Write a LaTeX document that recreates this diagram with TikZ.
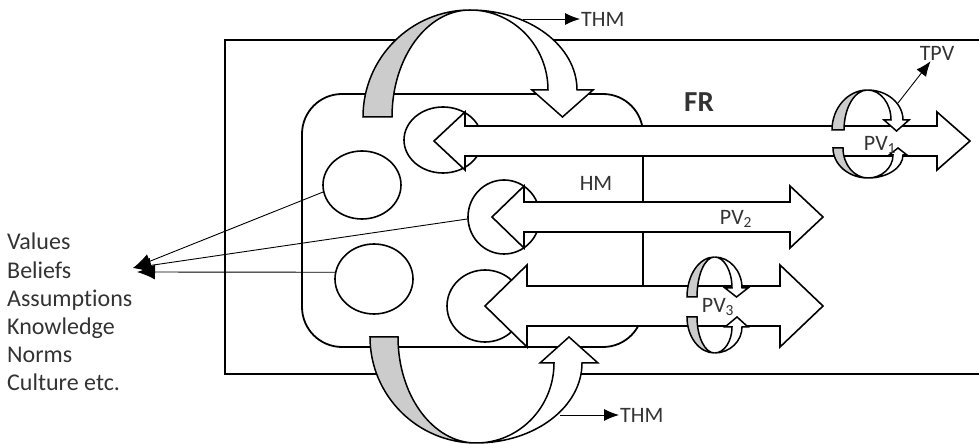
\documentclass[tikz,border=0pt]{standalone}
\usepackage{fontspec}
\setmainfont{Carlito}[Ligatures=NoCommon]
\usetikzlibrary{arrows.meta, shapes.geometric}
\definecolor{cBand}{HTML}{CCCCCC}
\definecolor{cInk}{HTML}{333333}
\tikzset{
  frame/.style={line width=1.8pt},
  blob/.style={ellipse, draw, line width=1.6pt, inner sep=0pt, outer sep=0pt},
  shaft/.style={draw, fill=white, line width=1.6pt, line join=miter},
  backband/.style={draw, fill=cBand, line width=1.5pt},
  frontband/.style={draw, fill=white, line width=1.5pt},
  lbl/.style={font=\fontsize{22}{24}\selectfont, text=cInk, inner sep=1pt},
  pointer/.style={line width=0.9pt, -{Latex[length=15pt,width=12pt]}},
  feed/.style={line width=0.9pt, -{Latex[length=18pt,width=15pt]}},
}

\begin{document}
\begin{tikzpicture}[x=1pt, y=1pt]
  \useasboundingbox (0,0) rectangle (979,444);
  % FR frame, cut by the right edge
  \draw[frame] (225,70) rectangle (995,404);
  % blank the room under both THM arcs
  \fill[white] (363,327) arc[start angle=180, end angle=90, radius=107]
    arc[start angle=90, end angle=0, x radius=107, y radius=80] -- (577,327) -- cycle;
  \fill[white] (370,107) arc[start angle=180, end angle=270, radius=106]
    arc[start angle=270, end angle=360, x radius=106, y radius=80] -- (582,107) -- cycle;

  % HM box
  \draw[frame, rounded corners=40pt] (302,97) rectangle (643,350);
  \node[blob, minimum width=78pt, minimum height=68pt] (c1) at (362,259) {};
  \node[blob, minimum width=78pt, minimum height=70pt] (c2) at (374,165) {};
  \node[blob, minimum width=78pt, minimum height=66pt] (pm1) at (443,304) {};
  \node[blob, minimum width=72pt, minimum height=74pt] (pm2) at (504,227) {};
  \node[blob, minimum width=76pt, minimum height=72pt] (pm3) at (485,138) {};

  % the three PV arrows
  \draw[shaft] (434,303) -- (465,332) -- (465,318) -- (937,318) -- (937,332) -- (970,303)
    -- (937,274) -- (937,288) -- (465,288) -- (465,274) -- cycle;
  \draw[shaft] (492,227) -- (524,258) -- (524,242) -- (790,242) -- (790,258) -- (823,227)
    -- (790,196) -- (790,212) -- (524,212) -- (524,196) -- cycle;
  \draw[shaft] (485,138) -- (527,179) -- (527,158) -- (780,158) -- (780,179) -- (823,138)
    -- (780,97) -- (780,118) -- (527,118) -- (527,97) -- cycle;

  % THM, top
  \draw[backband] (363,327) arc[start angle=180, end angle=90, radius=107]
    arc[start angle=90, end angle=180, x radius=78, y radius=107] -- cycle;
  \draw[frontband] (470,434) arc[start angle=90, end angle=0, x radius=107, y radius=80]
    -- (593,354) -- (562.5,327) -- (532,354) -- (548,354)
    arc[start angle=0, end angle=90, x radius=78, y radius=80] -- cycle;
  % THM, bottom
  \draw[backband] (370,107) arc[start angle=180, end angle=270, radius=106]
    arc[start angle=270, end angle=180, x radius=78, y radius=106] -- cycle;
  \draw[frontband] (476,1) arc[start angle=270, end angle=360, x radius=106, y radius=80]
    -- (598,81) -- (569,107) -- (540,81) -- (554,81)
    arc[start angle=0, end angle=-90, x radius=78, y radius=80] -- cycle;

  % loops round PV1
  \begin{scope}[line width=1.3pt]
    \draw[backband] (832,314) arc[start angle=180, end angle=90, x radius=35.5, y radius=40]
      arc[start angle=90, end angle=180, x radius=23.5, y radius=40] -- cycle;
    \draw[frontband] (867.5,354) arc[start angle=90, end angle=0, x radius=35.5, y radius=30]
      -- (909,324) -- (896.5,313) -- (884,324) -- (891,324)
      arc[start angle=0, end angle=90, x radius=23.5, y radius=30] -- cycle;
    \draw[backband] (833,296) arc[start angle=180, end angle=270, x radius=35, y radius=30]
      arc[start angle=270, end angle=180, x radius=25, y radius=30] -- cycle;
    \draw[frontband] (868,266) arc[start angle=270, end angle=360, x radius=35, y radius=23]
      -- (907,289) -- (898,296) -- (889,289) -- (893,289)
      arc[start angle=0, end angle=-90, x radius=25, y radius=23] -- cycle;
  \end{scope}
  % loops round PV3
  \begin{scope}[line width=1.3pt]
    \draw[backband] (687,147) arc[start angle=180, end angle=90, x radius=27.5, y radius=40]
      arc[start angle=90, end angle=180, x radius=17.5, y radius=40] -- cycle;
    \draw[frontband] (714.5,187) arc[start angle=90, end angle=0, x radius=27.5, y radius=31]
      -- (748,156) -- (736.5,147) -- (725,156) -- (732,156)
      arc[start angle=0, end angle=90, x radius=17.5, y radius=31] -- cycle;
    \draw[backband] (687,127) arc[start angle=180, end angle=270, x radius=27.5, y radius=36]
      arc[start angle=270, end angle=180, x radius=17.5, y radius=36] -- cycle;
    \draw[frontband] (714.5,91) arc[start angle=270, end angle=360, x radius=27.5, y radius=26]
      -- (748,117) -- (737,127) -- (725,117) -- (732,117)
      arc[start angle=0, end angle=-90, x radius=17.5, y radius=26] -- cycle;
  \end{scope}

  % labels
  \node[lbl, font=\bfseries\fontsize{29}{30}\selectfont] (fr) at (699,342) {FR};
  \node[lbl] (hm) at (596,261) {HM};
  \node[lbl] (pv1) at (880,299) {PV\textsubscript{1}};
  \node[lbl] (pv2) at (736,225) {PV\textsubscript{2}};
  \node[lbl] (pv3) at (718,137) {PV\textsubscript{3}};
  \node[lbl] (tpv) at (937,391) {TPV};
  \node[lbl, anchor=west] (thmT) at (580,425) {THM};
  \node[lbl, anchor=west] (thmB) at (619,29) {THM};
  \node[lbl, align=left, anchor=north west, font=\fontsize{24}{28.2}\selectfont] (vals)
    at (6,212) {Values\\Beliefs\\Assumptions\\Knowledge\\Norms\\Culture etc.};

  \coordinate (thmTs) at (523,425);
  \coordinate (thmBs) at (560,29);
  \coordinate (tpvs) at (898,341);
  \coordinate (vb1) at (133,176);
  \coordinate (vb2) at (137,172);
  \draw[pointer] (thmTs) -- (thmT.west);
  \draw[pointer] (thmBs) -- (thmB.west);
  \draw[pointer] (tpvs) -- (tpv);
  \draw[feed] (c1.190) -- (vb1);
  \draw[feed] (pm2.183) -- (vb1);
  \draw[feed] (c2.170) -- (vb2);
\end{tikzpicture}
\end{document}
